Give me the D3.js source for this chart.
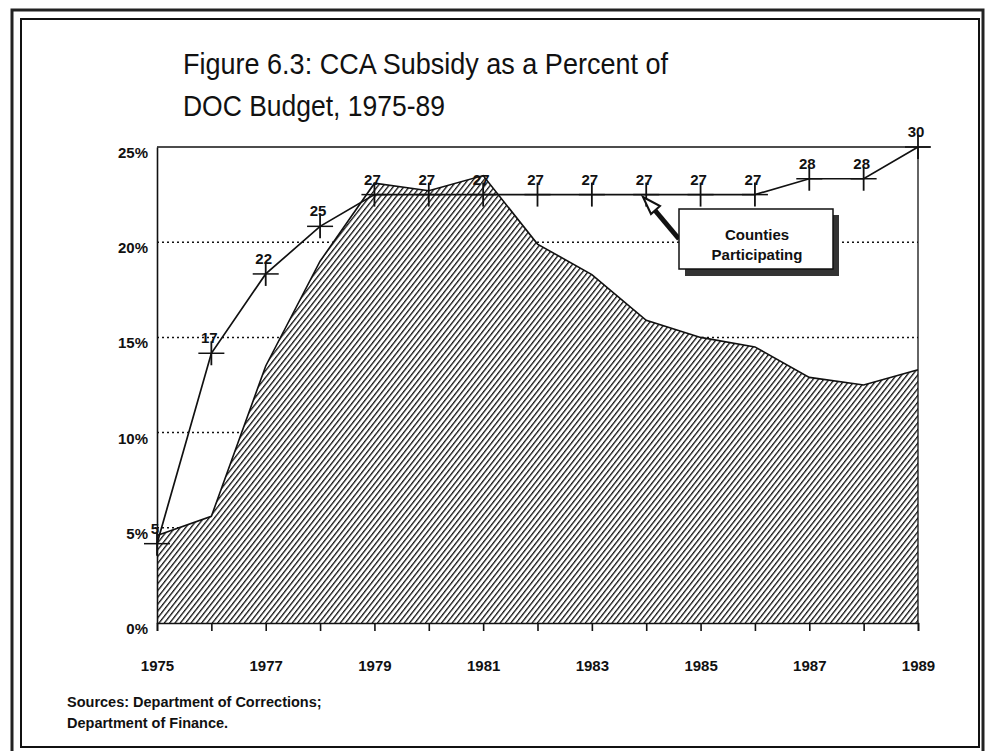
<!DOCTYPE html>
<html><head><meta charset="utf-8">
<script src="https://cdn.jsdelivr.net/npm/d3@7"></script>
<style>
html,body{margin:0;padding:0;background:#fff;}
svg{display:block;}
text{font-family:"Liberation Sans",Arial,Helvetica,sans-serif;fill:#111;}
</style></head>
<body>
<svg id="chart" width="987" height="751"></svg>
<script>
// ---- data ----
const years = [1975,1976,1977,1978,1979,1980,1981,1982,1983,1984,1985,1986,1987,1988,1989];
const subsidyPct = [4.6,5.6,13.5,19.0,23.1,22.7,23.5,19.9,18.3,15.9,15.0,14.5,12.9,12.5,13.3];
const counties = [5,17,22,25,27,27,27,27,27,27,27,27,28,28,30];
const yTicks = [0,5,10,15,20,25];
const xTickLabels = [1975,1977,1979,1981,1983,1985,1987,1989];
const titleLines = ["Figure 6.3: CCA Subsidy as a Percent of","DOC Budget, 1975-89"];
const sourceLines = ["Sources: Department of Corrections;","Department of Finance."];
const calloutLines = ["Counties","Participating"];

const svg = d3.select("#chart");
const pLeft = 157, pRight = 918, pTop = 147, pBottom = 623;
const x = d3.scaleLinear().domain([1975,1989]).range([pLeft,pRight]);
const y = d3.scaleLinear().domain([0,25]).range([pBottom,pTop]);
const yc = d3.scaleLinear().domain([0,30]).range([pBottom,pTop]);

// frames
svg.append("path").attr("d","M12,751 L12,10 L983,10 L983,751").attr("fill","none").attr("stroke","#222").attr("stroke-width",3);
svg.append("rect").attr("x",21).attr("y",19).attr("width",958).attr("height",728)
  .attr("fill","none").attr("stroke","#111").attr("stroke-width",2);

// title
titleLines.forEach((t,i)=>{
  svg.append("text").attr("x",183).attr("y",74+i*42).attr("font-size",30)
    .attr("textLength", i===0?485:262).attr("lengthAdjust","spacingAndGlyphs").text(t);
});

// hatch pattern
const defs = svg.append("defs");
const pat = defs.append("pattern").attr("id","hatch").attr("patternUnits","userSpaceOnUse")
  .attr("width",4.2).attr("height",4.2).attr("patternTransform","rotate(38)");
pat.append("rect").attr("width",4.2).attr("height",4.2).attr("fill","#fff");
pat.append("line").attr("x1",0).attr("y1",0).attr("x2",0).attr("y2",4.2)
  .attr("stroke","#111").attr("stroke-width",2.6);

// gridlines
svg.append("g").selectAll("line").data(yTicks.filter(v=>v>0 && v<25)).join("line")
  .attr("x1",pLeft).attr("x2",pRight).attr("y1",d=>y(d)).attr("y2",d=>y(d))
  .attr("stroke","#111").attr("stroke-width",1.5).attr("stroke-dasharray","2,3");

// area
const area = d3.area().x((d,i)=>x(years[i])).y0(y(0)).y1(d=>y(d));
svg.append("path").datum(subsidyPct).attr("d",area).attr("fill","url(#hatch)");
svg.append("path").datum(subsidyPct).attr("d",d3.line().x((d,i)=>x(years[i])).y(d=>y(d)))
  .attr("fill","none").attr("stroke","#111").attr("stroke-width",1.6);

// frame lines of plot
svg.append("line").attr("x1",pLeft).attr("x2",930).attr("y1",y(25)).attr("y2",y(25)).attr("stroke","#111").attr("stroke-width",1.6);
svg.append("line").attr("x1",pRight).attr("x2",pRight).attr("y1",y(25)).attr("y2",y(0)).attr("stroke","#111").attr("stroke-width",1.3);

// axes
const xAxis = d3.axisBottom(x).tickValues(years).tickSize(8).tickFormat(d=>xTickLabels.includes(d)?d:"");
const gx = svg.append("g").attr("transform",`translate(0,${pBottom})`).call(xAxis);
gx.select(".domain").attr("stroke","#111").attr("stroke-width",1.6);
gx.selectAll(".tick line").attr("stroke","#111").attr("stroke-width",1.6);
gx.selectAll(".tick text").attr("font-size",15).attr("font-weight","bold").attr("y",37)
  .attr("font-family","Liberation Sans,Arial,sans-serif").attr("fill","#111");

const yAxis = d3.axisLeft(y).tickValues(yTicks).tickSize(0).tickFormat(d=>d+"%");
const gy = svg.append("g").attr("transform",`translate(${pLeft},0)`).call(yAxis);
gy.select(".domain").attr("stroke","#111").attr("stroke-width",1.6);
gy.selectAll(".tick text").attr("font-size",15).attr("font-weight","bold").attr("x",-9).attr("dy",10.5)
  .attr("font-family","Liberation Sans,Arial,sans-serif").attr("fill","#111");

// counties line
svg.append("path").datum(counties).attr("d",d3.line().x((d,i)=>x(years[i])).y(d=>yc(d)))
  .attr("fill","none").attr("stroke","#111").attr("stroke-width",1.7);
const mk = svg.append("g").selectAll("g").data(counties).join("g")
  .attr("transform",(d,i)=>`translate(${x(years[i])},${yc(d)})`);
mk.append("line").attr("x1",-13).attr("x2",13).attr("stroke","#111").attr("stroke-width",1.5);
mk.append("line").attr("y1",-12).attr("y2",12).attr("stroke","#111").attr("stroke-width",1.8);
mk.append("text").attr("text-anchor","middle").attr("x",-2).attr("y",-10).attr("font-size",15).attr("font-weight","bold").text(d=>d);

// callout arrow
svg.append("line").attr("x1",679).attr("y1",239).attr("x2",653).attr("y2",208)
  .attr("stroke","#111").attr("stroke-width",5);
svg.append("path").attr("d","M643,197 L660,206 L651,214 Z").attr("fill","#fff").attr("stroke","#111").attr("stroke-width",2);

// callout box with shadow
svg.append("rect").attr("x",685).attr("y",215).attr("width",154).attr("height",61).attr("fill","#333");
svg.append("rect").attr("x",679).attr("y",209).attr("width",154).attr("height",60).attr("fill","#fff").attr("stroke","#111").attr("stroke-width",1.5);
calloutLines.forEach((t,i)=>{
  svg.append("text").attr("x",757).attr("y",239.5+i*20).attr("text-anchor","middle")
    .attr("font-size",15).attr("font-weight","bold").text(t);
});

// sources
sourceLines.forEach((t,i)=>{
  svg.append("text").attr("x",67).attr("y",707+i*21).attr("font-size",14.5).attr("font-weight","bold").text(t);
});
</script>
</body></html>
